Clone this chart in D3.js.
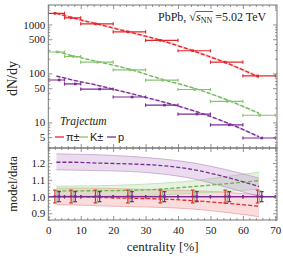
<!DOCTYPE html>
<html>
<head>
<meta charset="utf-8">
<script src="https://cdn.jsdelivr.net/npm/d3@7"></script>
<style>
  body { margin: 0; background: #fff; }
  svg { display: block; }
</style>
</head>
<body>
<div id="chart"></div>
<script>
// centrality bins (%)
const binLo = [0, 5, 10, 20, 30, 40, 50, 60];
const binHi = [5, 10, 20, 30, 40, 50, 60, 70];

const piData = [1690, 1370, 1030, 707, 475, 291, 170, 89];
const kData  = [274, 222, 170, 118, 73, 47, 27, 14];
const pData  = [73.5, 61, 48, 33, 22.5, 14.8, 8.9, 4.8];

// relative data errors (vertical bars in ratio panel)
const piErr = [0.038, 0.038, 0.038, 0.038, 0.038, 0.038, 0.038, 0.038];
const kErr  = [0.032, 0.032, 0.032, 0.032, 0.032, 0.032, 0.032, 0.032];
const pErr  = [0.03, 0.03, 0.03, 0.03, 0.03, 0.03, 0.03, 0.03];

// Trajectum model / data, with band
const piRatio = [1.0, 1.0, 0.995, 0.99, 0.985, 0.975, 0.96, 0.942];
const piLo    = [0.95, 0.95, 0.945, 0.94, 0.935, 0.925, 0.905, 0.88];
const piHi    = [1.05, 1.05, 1.05, 1.045, 1.04, 1.035, 1.025, 1.01];
const kRatio  = [1.033, 1.034, 1.035, 1.037, 1.045, 1.06, 1.077, 1.095];
const kLo     = [1.005, 1.005, 1.005, 1.005, 1.01, 1.02, 1.03, 1.045];
const kHi     = [1.062, 1.063, 1.065, 1.07, 1.08, 1.095, 1.12, 1.145];
const pRatio  = [1.205, 1.205, 1.2, 1.195, 1.185, 1.16, 1.115, 1.06];
const pLo     = [1.16, 1.158, 1.155, 1.15, 1.135, 1.105, 1.055, 1.0];
const pHi     = [1.255, 1.253, 1.25, 1.24, 1.225, 1.2, 1.16, 1.11];

const xMajor = [0, 10, 20, 30, 40, 50, 60, 70];
const yTopMajor = [5, 10, 50, 100, 500, 1000];
const yBotMajor = [0.9, 1.0, 1.1, 1.2];

const series = [
  {name: "\u03C0\u00B1", data: piData, err: piErr, ratio: piRatio, lo: piLo, hi: piHi,
   color: "#e3262b", line: "#e3262b", band: "#f08a8a", dodge: -1.5},
  {name: "K\u00B1", data: kData, err: kErr, ratio: kRatio, lo: kLo, hi: kHi,
   color: "#86c36f", line: "#6db35a", band: "#a9d897", dodge: 0.6},
  {name: "p", data: pData, err: pErr, ratio: pRatio, lo: pLo, hi: pHi,
   color: "#7a2a96", line: "#7a2a96", band: "#b88ac8", dodge: 2.7}
];

const W = 283, H = 257;
const L = 48.3, R = 277, T = 5, MID = 148, B = 220;

const svg = d3.select("#chart").append("svg")
  .attr("width", W).attr("height", H);

const x = d3.scaleLinear().domain([0, 70.52]).range([L, R]);
const yTop = d3.scaleLog().domain([3, 2500]).range([MID, T]);
const yBot = d3.scaleLinear().domain([0.86, 1.29]).range([B, MID]);

const serif = "'Liberation Serif', 'Times New Roman', serif";
const frameColor = "#777";

const mid = binLo.map((d, i) => (d + binHi[i]) / 2);

// clip paths
const defs = svg.append("defs");
defs.append("clipPath").attr("id", "clipTop").append("rect")
  .attr("x", L).attr("y", T).attr("width", R - L).attr("height", MID - T);
defs.append("clipPath").attr("id", "clipBot").append("rect")
  .attr("x", L).attr("y", MID).attr("width", R - L).attr("height", B - MID);

// ---------- ticks ----------
function minorVals(lo, hi, step, majors) {
  const out = [];
  for (let v = lo; v <= hi + 1e-9; v += step) {
    const r = Math.round(v * 1000) / 1000;
    if (!majors.some(m => Math.abs(m - r) < 1e-6)) out.push(r);
  }
  return out;
}
const xMinor = minorVals(0, 70, 2, xMajor);
const yBotMinor = minorVals(0.86, 1.28, 0.02, yBotMajor);
const yTopMinor = [];
[1, 10, 100, 1000].forEach(dec => {
  for (let k = 1; k <= 9; k++) {
    const v = k * dec;
    if (v >= 3 && v <= 2500 && !yTopMajor.includes(v)) yTopMinor.push(v);
  }
});

function styleAxis(g) {
  g.select(".domain").remove();
  g.selectAll("line").attr("stroke", frameColor).attr("stroke-width", 0.8);
  g.selectAll("text").attr("font-family", serif).attr("font-size", 11).attr("fill", "#222");
}

function ticks(y, yMajor, yMinor, yt, yb, labelX, fmt) {
  svg.append("g").attr("transform", `translate(${L},0)`)
    .call(d3.axisLeft(y).tickValues(yMajor).tickSize(-4).tickPadding(3).tickFormat(fmt))
    .call(styleAxis);
  svg.append("g").attr("transform", `translate(${L},0)`)
    .call(d3.axisLeft(y).tickValues(yMinor).tickSize(-2).tickFormat(""))
    .call(styleAxis);
  svg.append("g").attr("transform", `translate(${R},0)`)
    .call(d3.axisRight(y).tickValues(yMajor).tickSize(-4).tickFormat(""))
    .call(styleAxis);
  svg.append("g").attr("transform", `translate(${R},0)`)
    .call(d3.axisRight(y).tickValues(yMinor).tickSize(-2).tickFormat(""))
    .call(styleAxis);
  svg.append("g").attr("transform", `translate(0,${yt})`)
    .call(d3.axisTop(x).tickValues(xMajor).tickSize(-4).tickFormat(""))
    .call(styleAxis);
  svg.append("g").attr("transform", `translate(0,${yt})`)
    .call(d3.axisTop(x).tickValues(xMinor).tickSize(-2).tickFormat(""))
    .call(styleAxis);
  svg.append("g").attr("transform", `translate(0,${yb})`)
    .call(d3.axisBottom(x).tickValues(xMajor).tickSize(-4).tickPadding(6)
      .tickFormat(labelX ? d3.format("d") : ""))
    .call(styleAxis);
  svg.append("g").attr("transform", `translate(0,${yb})`)
    .call(d3.axisBottom(x).tickValues(xMinor).tickSize(-2).tickFormat(""))
    .call(styleAxis);
}

// ---------- upper panel ----------
const gTop = svg.append("g").attr("clip-path", "url(#clipTop)");

series.forEach(s => {
  const pts = mid.map((c, i) => ({c: c, m: s.data[i] * s.ratio[i],
    lo: s.data[i] * s.lo[i], hi: s.data[i] * s.hi[i]}));
  gTop.append("path")
    .datum(pts)
    .attr("fill", s.band).attr("fill-opacity", 0.45)
    .attr("d", d3.area().curve(d3.curveMonotoneX)
      .x(d => x(d.c)).y0(d => yTop(d.lo)).y1(d => yTop(d.hi)));
  gTop.append("path")
    .datum(pts)
    .attr("fill", "none").attr("stroke", s.line).attr("stroke-width", 1.3)
    .attr("stroke-dasharray", "4,2")
    .attr("d", d3.line().curve(d3.curveMonotoneX).x(d => x(d.c)).y(d => yTop(d.m)));
});

series.forEach(s => {
  const g = gTop.append("g").attr("stroke", s.color).attr("stroke-width", 1.2);
  s.data.forEach((v, i) => {
    const yy = yTop(v);
    const cx = x(mid[i]) + s.dodge;
    g.append("line").attr("x1", x(binLo[i])).attr("x2", x(binHi[i])).attr("y1", yy).attr("y2", yy);
    g.append("line").attr("x1", x(binLo[i])).attr("x2", x(binLo[i])).attr("y1", yy - 1.6).attr("y2", yy + 1.6);
    g.append("line").attr("x1", x(binHi[i])).attr("x2", x(binHi[i])).attr("y1", yy - 1.6).attr("y2", yy + 1.6);
    g.append("line").attr("x1", cx).attr("x2", cx)
      .attr("y1", yTop(v * (1 + s.err[i]))).attr("y2", yTop(v * (1 - s.err[i])));
    g.append("rect").attr("x", cx - 1.3).attr("y", yy - 1.3).attr("width", 2.6).attr("height", 2.6)
      .attr("fill", s.color).attr("stroke", "none");
  });
});

// ---------- lower panel ----------
const gBot = svg.append("g").attr("clip-path", "url(#clipBot)");

series.forEach(s => {
  const pts = mid.map((c, i) => ({c: c, m: s.ratio[i], lo: s.lo[i], hi: s.hi[i]}));
  gBot.append("path")
    .datum(pts)
    .attr("fill", s.band).attr("fill-opacity", 0.3)
    .attr("d", d3.area().curve(d3.curveMonotoneX)
      .x(d => x(d.c)).y0(d => yBot(d.lo)).y1(d => yBot(d.hi)));
  ["lo", "hi"].forEach(k => {
    gBot.append("path")
      .datum(pts)
      .attr("fill", "none").attr("stroke", s.band).attr("stroke-width", 0.8).attr("stroke-opacity", 0.8)
      .attr("d", d3.line().curve(d3.curveMonotoneX).x(d => x(d.c)).y(d => yBot(d[k])));
  });
});
series.forEach(s => {
  gBot.append("path")
    .datum(mid.map((c, i) => ({c: c, m: s.ratio[i]})))
    .attr("fill", "none").attr("stroke", s.line).attr("stroke-width", 1.3)
    .attr("stroke-dasharray", "4,2")
    .attr("d", d3.line().curve(d3.curveMonotoneX).x(d => x(d.c)).y(d => yBot(d.m)));
});

series.forEach(s => {
  const g = gBot.append("g").attr("stroke", s.color).attr("stroke-width", 1.2);
  const yy = yBot(1);
  mid.forEach((c, i) => {
    const cx = x(c) + s.dodge;
    g.append("line").attr("x1", x(binLo[i])).attr("x2", x(binHi[i])).attr("y1", yy).attr("y2", yy);
    g.append("line").attr("x1", x(binLo[i])).attr("x2", x(binLo[i])).attr("y1", yy - 1.6).attr("y2", yy + 1.6);
    g.append("line").attr("x1", x(binHi[i])).attr("x2", x(binHi[i])).attr("y1", yy - 1.6).attr("y2", yy + 1.6);
    const y1 = yBot(1 + s.err[i]), y2 = yBot(1 - s.err[i]);
    g.append("line").attr("x1", cx).attr("x2", cx).attr("y1", y1).attr("y2", y2);
    g.append("line").attr("x1", cx - 1.8).attr("x2", cx + 1.8).attr("y1", y1).attr("y2", y1);
    g.append("line").attr("x1", cx - 1.8).attr("x2", cx + 1.8).attr("y1", y2).attr("y2", y2);
    g.append("rect").attr("x", cx - 1.3).attr("y", yy - 1.3).attr("width", 2.6).attr("height", 2.6)
      .attr("fill", s.color).attr("stroke", "none");
  });
});

// ---------- axes & frames ----------
ticks(yTop, yTopMajor, yTopMinor, T, MID, false, d3.format("d"));
ticks(yBot, yBotMajor, yBotMinor, MID, B, true, d3.format(".1f"));

svg.append("rect").attr("x", L).attr("y", T).attr("width", R - L).attr("height", MID - T)
  .attr("fill", "none").attr("stroke", frameColor).attr("stroke-width", 1);
svg.append("rect").attr("x", L).attr("y", MID).attr("width", R - L).attr("height", B - MID)
  .attr("fill", "none").attr("stroke", frameColor).attr("stroke-width", 1);

// axis titles
svg.append("text")
  .attr("transform", `translate(17,${(T + MID) / 2 + 2}) rotate(-90)`)
  .attr("text-anchor", "middle").attr("font-family", serif).attr("font-size", 14).attr("fill", "#222")
  .text("dN/dy");
svg.append("text")
  .attr("transform", `translate(17,${(MID + B) / 2}) rotate(-90)`)
  .attr("text-anchor", "middle").attr("font-family", serif).attr("font-size", 12.5).attr("fill", "#222")
  .text("model/data");
svg.append("text")
  .attr("x", (L + R) / 2).attr("y", 251)
  .attr("text-anchor", "middle").attr("font-family", serif).attr("font-size", 13).attr("fill", "#222")
  .text("centrality [%]");

// collision label
const lab = svg.append("text").attr("x", 158).attr("y", 21)
  .attr("font-family", serif).attr("font-size", 12).attr("fill", "#222");
lab.append("tspan").text("PbPb, ");
const sq = lab.append("tspan").text("\u221A");
lab.append("tspan").attr("font-style", "italic").text("s");
const nn = lab.append("tspan").attr("font-size", 8).attr("dy", 2).text("NN");
lab.append("tspan").attr("dy", -2).text(" =5.02 TeV");
const sqBox = sq.node().getBBox(), nnBox = nn.node().getBBox();
svg.append("line")
  .attr("x1", sqBox.x + sqBox.width - 0.5).attr("x2", nnBox.x + nnBox.width + 0.5)
  .attr("y1", sqBox.y + 1.5).attr("y2", sqBox.y + 1.5)
  .attr("stroke", "#222").attr("stroke-width", 0.7);

// model name
svg.append("text").attr("x", 60).attr("y", 125)
  .attr("font-family", serif).attr("font-style", "italic").attr("font-size", 11.5).attr("fill", "#222")
  .text("Trajectum");

// legend
const legX = [55, 79, 107];
series.forEach((s, i) => {
  const g = svg.append("g").attr("transform", `translate(${legX[i]},137)`);
  g.append("line").attr("x1", 0).attr("x2", 9).attr("y1", 0).attr("y2", 0)
    .attr("stroke", s.color).attr("stroke-width", 1.3);
  g.append("text").attr("x", 11).attr("y", 4)
    .attr("font-family", "'Liberation Sans', Arial, sans-serif").attr("font-size", 11).attr("fill", "#222")
    .text(s.name);
});
</script>
</body>
</html>
